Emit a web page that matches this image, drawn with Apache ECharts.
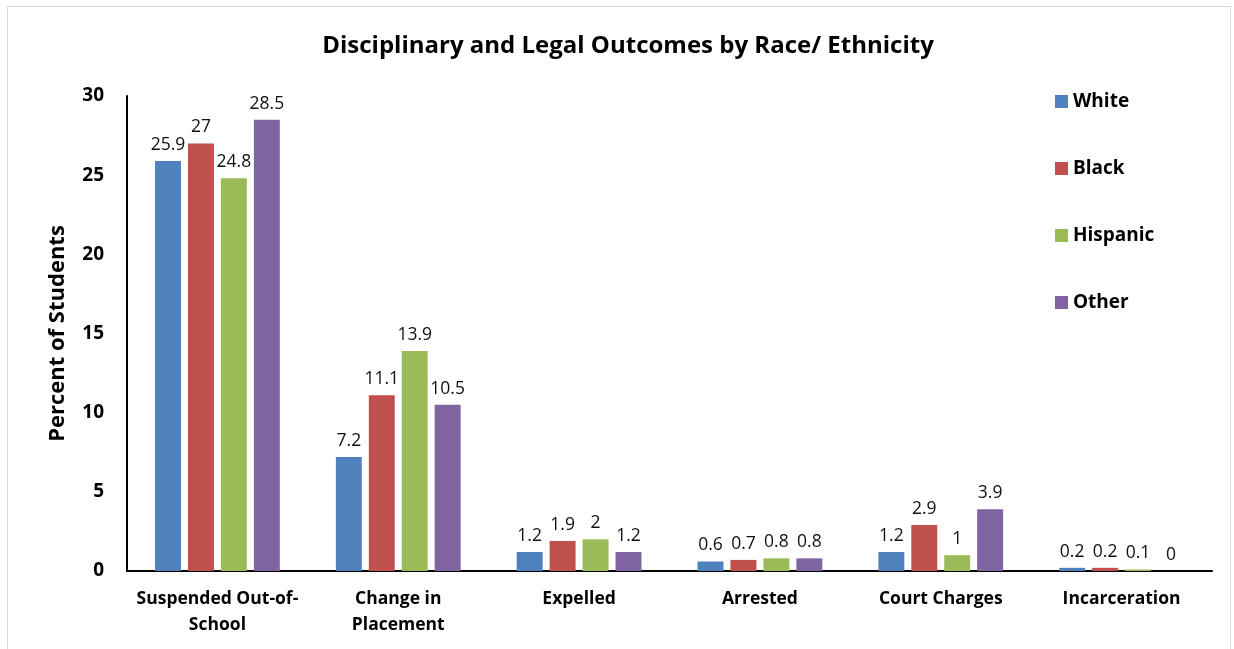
<!DOCTYPE html>
<html>
<head>
<meta charset="utf-8">
<script src="https://cdn.jsdelivr.net/npm/echarts@6/dist/echarts.min.js"></script>
<style>
  html, body { margin: 0; padding: 0; background: #fff; }
  #chart { width: 1234px; height: 649px; box-sizing: border-box; }
  .frame { position: absolute; left: 7px; top: 6px; width: 1222px; height: 660px; border: 1px solid #d9d9d9; pointer-events: none; }
</style>
</head>
<body>
<div id="chart"></div>
<div class="frame"></div>
<script>
// categories along the x axis
const categories = ['Suspended Out-of-School', 'Change in Placement', 'Expelled', 'Arrested', 'Court Charges', 'Incarceration'];
const wrapped = {
	'Suspended Out-of-School': 'Suspended Out-of-\nSchool',
	'Change in Placement': 'Change in\nPlacement',
};

// percent of students per group
const white = [25.9, 7.2, 1.2, 0.6, 1.2, 0.2];
const black = [27, 11.1, 1.9, 0.7, 2.9, 0.2];
const hispanic = [24.8, 13.9, 2, 0.8, 1, 0.1];
const other = [28.5, 10.5, 1.2, 0.8, 3.9, 0];

const groupNames = ['White', 'Black', 'Hispanic', 'Other'];
const groupValues = [white, black, hispanic, other];
const colors = ['#4F81BD', '#C0504D', '#9BBB59', '#8064A2'];

const font = 'Open Sans';

const chart = echarts.init(document.getElementById('chart'));

const series = groupNames.map((name, i) => ({
	name,
	type: 'bar',
	data: groupValues[i],
	barGap: '27%',
	barCategoryGap: '31%',
	itemStyle: { color: colors[i] },
	label: {
		show: true,
		position: 'top',
		distance: 7,
		color: '#111',
		fontFamily: font,
		fontSize: 17.5,
	},
}));

chart.setOption({
	color: colors,
	title: {
		text: 'Disciplinary and Legal Outcomes by Race/ Ethnicity',
		left: 623,
		textAlign: 'center',
		top: 29,
		textStyle: { fontFamily: font, fontSize: 24, fontWeight: 'bold', color: '#000' },
	},
	legend: {
		orient: 'vertical',
		left: 1050,
		top: 87,
		itemWidth: 13,
		itemHeight: 13,
		itemGap: 48,
		icon: 'rect',
		textStyle: { fontFamily: font, fontSize: 19, fontWeight: 'bold', color: '#000' },
		data: groupNames,
	},
	grid: { left: 127, right: 22, top: 96, bottom: 78 },
	xAxis: {
		type: 'category',
		data: categories,
		axisLine: { lineStyle: { color: '#000', width: 2 } },
		axisTick: { show: false },
		axisLabel: {
			interval: 0,
			margin: 15,
			fontFamily: font,
			fontSize: 17.5,
			fontWeight: 'bold',
			color: '#000',
			lineHeight: 26,
			formatter: (v) => wrapped[v] || v,
		},
	},
	yAxis: {
		type: 'value',
		min: 0,
		max: 30,
		interval: 5,
		name: 'Percent of Students',
		nameLocation: 'middle',
		nameGap: 58,
		nameTextStyle: { fontFamily: font, fontSize: 22, fontWeight: 'bold', color: '#000' },
		splitLine: { show: false },
		axisLine: { show: true, lineStyle: { color: '#000', width: 2 } },
		axisTick: { show: false },
		axisLabel: { margin: 23, fontFamily: font, fontSize: 19, fontWeight: 'bold', color: '#000' },
	},
	series,
});
</script>
</body>
</html>
